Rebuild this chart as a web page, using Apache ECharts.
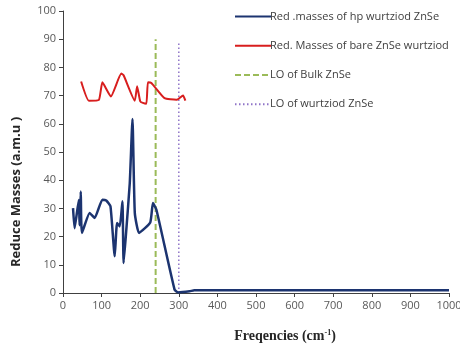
<!DOCTYPE html>
<html>
<head>
<meta charset="utf-8">
<script src="https://cdn.jsdelivr.net/npm/echarts@6/dist/echarts.min.js"></script>
<style>html,body{margin:0;padding:0;background:#fff}#c{width:460px;height:349px}</style>
</head>
<body>
<div id="c"></div>
<script>
// Blue: Red .masses of hp wurtziod ZnSe
const hpX = [26, 30, 41, 43, 46, 49, 69, 82, 102, 112, 123, 134, 140, 147, 154, 157, 164, 173, 180, 186, 197, 226, 233, 242, 289, 298, 328, 340, 400, 500, 600, 700, 800, 900, 1000];
const hpY = [30.1, 23, 33, 24, 36, 21.3, 28.4, 26.6, 33.1, 32.8, 30.7, 13, 24.8, 23.6, 32.5, 10.6, 22.4, 39, 61.7, 28.4, 21.3, 25, 31.9, 29.5, 1.2, 0.2, 0.6, 1, 1, 1, 1, 1, 1, 1, 1];
// Red: Red. Masses of bare ZnSe wurtziod
const bareX = [47, 67, 93, 102, 124, 151, 157, 186, 192, 200, 207, 216, 220, 229, 263, 294, 311, 317];
const bareY = [75.0, 68.2, 68.5, 74.7, 69.7, 77.8, 77.2, 68.2, 73.3, 68, 67.4, 67.1, 74.7, 74.5, 69.1, 68.5, 70, 68.2];
// Vertical reference lines
const loBulkX = [240, 240];
const loBulkY = [0, 90];
const loWurtX = [300, 300];
const loWurtY = [0, 89];

const seriesNames = ['Red .masses of hp wurtziod ZnSe', 'Red. Masses of bare ZnSe wurtziod', 'LO of Bulk ZnSe', 'LO of wurtziod ZnSe'];
const zip = (xs, ys) => xs.map((x, i) => [x, ys[i]]);

const chart = echarts.init(document.getElementById('c'), null, {renderer: 'canvas'});
chart.setOption({
  animation: false,
  grid: {left: 63, right: 11, top: 11, bottom: 56, containLabel: false, outerBoundsMode: 'none'},
  legend: {
    orient: 'vertical', left: 229, top: 6, itemGap: 18, itemWidth: 36, itemHeight: 14,
    itemStyle: {opacity: 0, borderWidth: 0},
    textStyle: {fontFamily: 'Open Sans', fontSize: 11, color: '#404040', padding: [0,0,0,-6]},
    data: seriesNames
  },
  xAxis: {
    type: 'value', min: 0, max: 1000, interval: 100,
    splitLine: {show: false},
    axisLine: {lineStyle: {color: '#404040', width: 1}},
    axisTick: {show: true, length: 4, lineStyle: {color: '#404040'}},
    axisLabel: {color: '#595959', fontSize: 11, fontFamily: 'Open Sans', margin: 7, formatter: v => String(v)},
    name: '{b|Freqencies (cm}{s|-1}{b|)}', nameLocation: 'middle', nameGap: 36,
    nameTextStyle: {
      padding: [0, 0, 0, 58],
      rich: {
        b: {fontFamily: 'Liberation Serif', fontWeight: 'bold', fontSize: 14, color: '#262626'},
        s: {fontFamily: 'Liberation Serif', fontWeight: 'bold', fontSize: 8, color: '#262626', verticalAlign: 'top', padding: [0,0,6,0]}
      }
    }
  },
  yAxis: {
    type: 'value', min: 0, max: 100, interval: 10,
    splitLine: {show: false},
    axisLine: {show: true, lineStyle: {color: '#404040', width: 1}},
    axisTick: {show: true, length: 4, lineStyle: {color: '#404040'}},
    axisLabel: {color: '#595959', fontSize: 11, fontFamily: 'Open Sans', margin: 7},
    name: 'Reduce Masses (a.m.u )', nameLocation: 'middle', nameGap: 40,
    nameTextStyle: {fontFamily: 'Open Sans', fontWeight: 'bold', fontSize: 13, color: '#262626', padding: [0, 80, 0, 0]}
  },
  series: [
    {name: seriesNames[0], type: 'line', data: zip(hpX, hpY), showSymbol: false, symbol: 'none', smooth: 0.15,
     lineStyle: {color: '#1c3470', width: 2.5}, itemStyle: {color: '#1c3470'}, z: 3},
    {name: seriesNames[1], type: 'line', data: zip(bareX, bareY), showSymbol: false, symbol: 'none', smooth: 0.15,
     lineStyle: {color: '#d81e1e', width: 2}, itemStyle: {color: '#d81e1e'}, z: 3},
    {name: seriesNames[2], type: 'line', data: zip(loBulkX, loBulkY), showSymbol: false, symbol: 'none',
     lineStyle: {color: '#9bbb59', width: 2, type: [6, 3]}, itemStyle: {color: '#9bbb59'}, z: 2},
    {name: seriesNames[3], type: 'line', data: zip(loWurtX, loWurtY), showSymbol: false, symbol: 'none',
     lineStyle: {color: '#8f74c8', width: 1.5, type: [1.5, 2.5]}, itemStyle: {color: '#8f74c8'}, z: 2}
  ]
});
</script>
</body>
</html>
